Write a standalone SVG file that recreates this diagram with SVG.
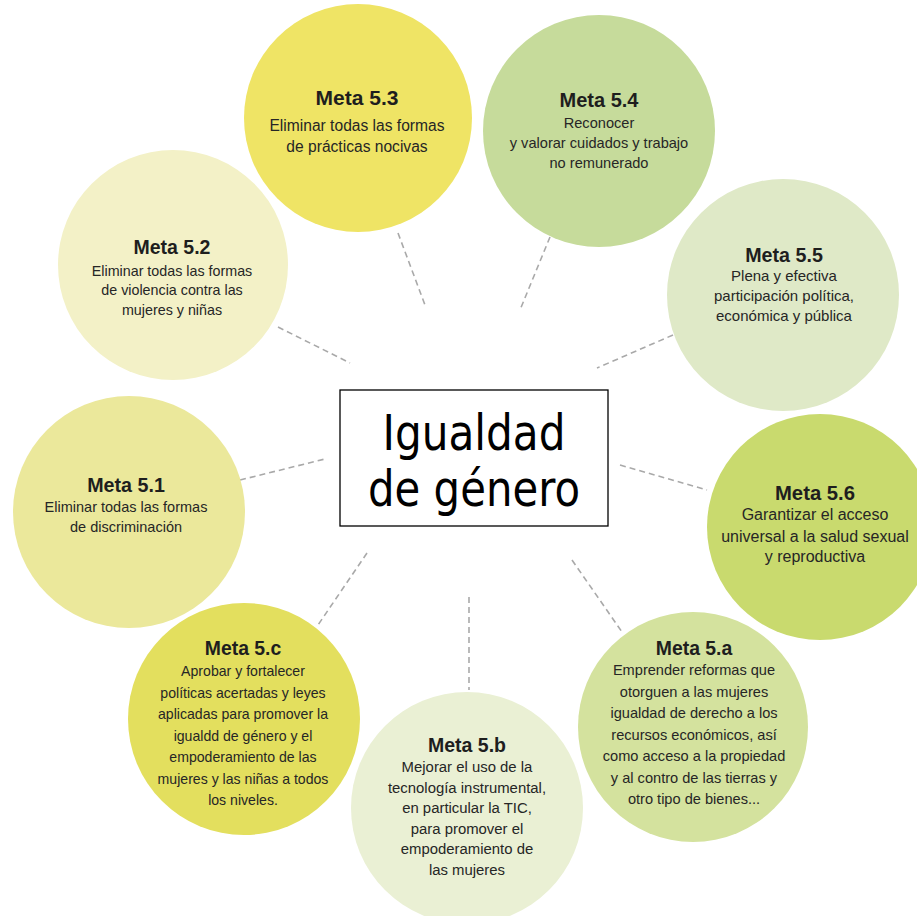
<svg xmlns="http://www.w3.org/2000/svg" width="917" height="916" viewBox="0 0 917 916">
<style>
.c{stroke:none}
.t{font-family:"Liberation Sans",Arial,sans-serif;font-weight:bold;fill:#1e1e1e;text-anchor:middle}
.b{font-family:"Liberation Sans",Arial,sans-serif;fill:#262626;text-anchor:middle}
.d{stroke:#a9a9a9;stroke-width:1.6;stroke-dasharray:6 4;fill:none}
</style>
<rect width="917" height="916" fill="#ffffff"/>
<g id="connectors">
<line class="d" x1="398" y1="233" x2="425" y2="305"/>
<line class="d" x1="550" y1="237" x2="520" y2="310"/>
<line class="d" x1="278" y1="327" x2="350" y2="363"/>
<line class="d" x1="673" y1="335" x2="597" y2="368"/>
<line class="d" x1="240" y1="480" x2="325" y2="459"/>
<line class="d" x1="620" y1="465" x2="707" y2="490"/>
<line class="d" x1="572" y1="560" x2="622" y2="632"/>
<line class="d" x1="469" y1="597" x2="469" y2="690"/>
<line class="d" x1="367" y1="553" x2="318" y2="625"/>
</g>
<g id="meta53">
<circle class="c" cx="358" cy="118" r="114" fill="#efe465"/>
<text class="t" x="357" y="105" font-size="21">Meta 5.3</text>
<text class="b" x="357" y="131" font-size="15.6">Eliminar todas las formas</text>
<text class="b" x="357" y="152" font-size="15.6">de prácticas nocivas</text>
</g>
<g id="meta54">
<circle class="c" cx="599" cy="131" r="116" fill="#c6db9b"/>
<text class="t" x="599" y="107" font-size="20">Meta 5.4</text>
<text class="b" x="599" y="128" font-size="14.6">Reconocer</text>
<text class="b" x="599" y="148" font-size="14.6">y valorar cuidados y trabajo</text>
<text class="b" x="599" y="168" font-size="14.6">no remunerado</text>
</g>
<g id="meta52">
<circle class="c" cx="173" cy="265" r="115" fill="#f3f1c7"/>
<text class="t" x="172" y="254" font-size="19.5">Meta 5.2</text>
<text class="b" x="172" y="276" font-size="14.3">Eliminar todas las formas</text>
<text class="b" x="172" y="295" font-size="14.3">de violencia contra las</text>
<text class="b" x="172" y="315" font-size="14.3">mujeres y niñas</text>
</g>
<g id="meta55">
<circle class="c" cx="783" cy="295" r="116" fill="#dfe9c7"/>
<text class="t" x="784" y="262" font-size="19.7">Meta 5.5</text>
<text class="b" x="784" y="281" font-size="15">Plena y efectiva</text>
<text class="b" x="784" y="301" font-size="15">participación política,</text>
<text class="b" x="784" y="321" font-size="15">económica y pública</text>
</g>
<g id="meta51">
<circle class="c" cx="129" cy="512" r="116" fill="#ebe89b"/>
<text class="t" x="126" y="492" font-size="19.7">Meta 5.1</text>
<text class="b" x="126" y="512" font-size="14.5">Eliminar todas las formas</text>
<text class="b" x="126" y="532" font-size="14.5">de discriminación</text>
</g>
<g id="meta56">
<circle class="c" cx="820" cy="527" r="113" fill="#c9da6e"/>
<text class="t" x="815" y="500" font-size="20.3">Meta 5.6</text>
<text class="b" x="815" y="520" font-size="16">Garantizar el acceso</text>
<text class="b" x="815" y="542" font-size="16">universal a la salud sexual</text>
<text class="b" x="815" y="562" font-size="16">y reproductiva</text>
</g>
<g id="meta5c">
<circle class="c" cx="244" cy="719" r="116" fill="#e3df5e"/>
<text class="t" x="243" y="655" font-size="19.4">Meta 5.c</text>
<text class="b" x="243" y="676" font-size="14.1">Aprobar y fortalecer</text>
<text class="b" x="243" y="697.5" font-size="14.1">políticas acertadas y leyes</text>
<text class="b" x="243" y="719" font-size="14.1">aplicadas para promover la</text>
<text class="b" x="243" y="740.5" font-size="14.1">igualdd de género y el</text>
<text class="b" x="243" y="762" font-size="14.1">empoderamiento de las</text>
<text class="b" x="243" y="783.5" font-size="14.1">mujeres y las niñas a todos</text>
<text class="b" x="243" y="805" font-size="14.1">los niveles.</text>
</g>
<g id="meta5a">
<circle class="c" cx="693" cy="727" r="115" fill="#d4e29e"/>
<text class="t" x="694" y="655" font-size="19.4">Meta 5.a</text>
<text class="b" x="694" y="675" font-size="14.6">Emprender reformas que</text>
<text class="b" x="694" y="696.5" font-size="14.6">otorguen a las mujeres</text>
<text class="b" x="694" y="718" font-size="14.6">igualdad de derecho a los</text>
<text class="b" x="694" y="739.5" font-size="14.6">recursos económicos, así</text>
<text class="b" x="694" y="761" font-size="14.6">como acceso a la propiedad</text>
<text class="b" x="694" y="782.5" font-size="14.6">y al contro de las tierras y</text>
<text class="b" x="694" y="804" font-size="14.6">otro tipo de bienes...</text>
</g>
<g id="meta5b">
<circle class="c" cx="467" cy="808" r="116" fill="#eaf0d4"/>
<text class="t" x="467" y="752" font-size="19.5">Meta 5.b</text>
<text class="b" x="467" y="772" font-size="14.9">Mejorar el uso de la</text>
<text class="b" x="467" y="792.5" font-size="14.9">tecnología instrumental,</text>
<text class="b" x="467" y="813" font-size="14.9">en particular la TIC,</text>
<text class="b" x="467" y="833.5" font-size="14.9">para promover el</text>
<text class="b" x="467" y="854" font-size="14.9">empoderamiento de</text>
<text class="b" x="467" y="874.5" font-size="14.9">las mujeres</text>
</g>
<g id="center">
<rect x="340" y="390" width="268" height="136" fill="#ffffff" stroke="#000000" stroke-width="1.3"/>
<text x="474" y="450" font-family="DejaVu Sans, sans-serif" font-size="49" text-anchor="middle" fill="#000" textLength="183" lengthAdjust="spacingAndGlyphs">Igualdad</text>
<text x="474" y="506" font-family="DejaVu Sans, sans-serif" font-size="49" text-anchor="middle" fill="#000" textLength="212" lengthAdjust="spacingAndGlyphs">de género</text>
</g>
</svg>
